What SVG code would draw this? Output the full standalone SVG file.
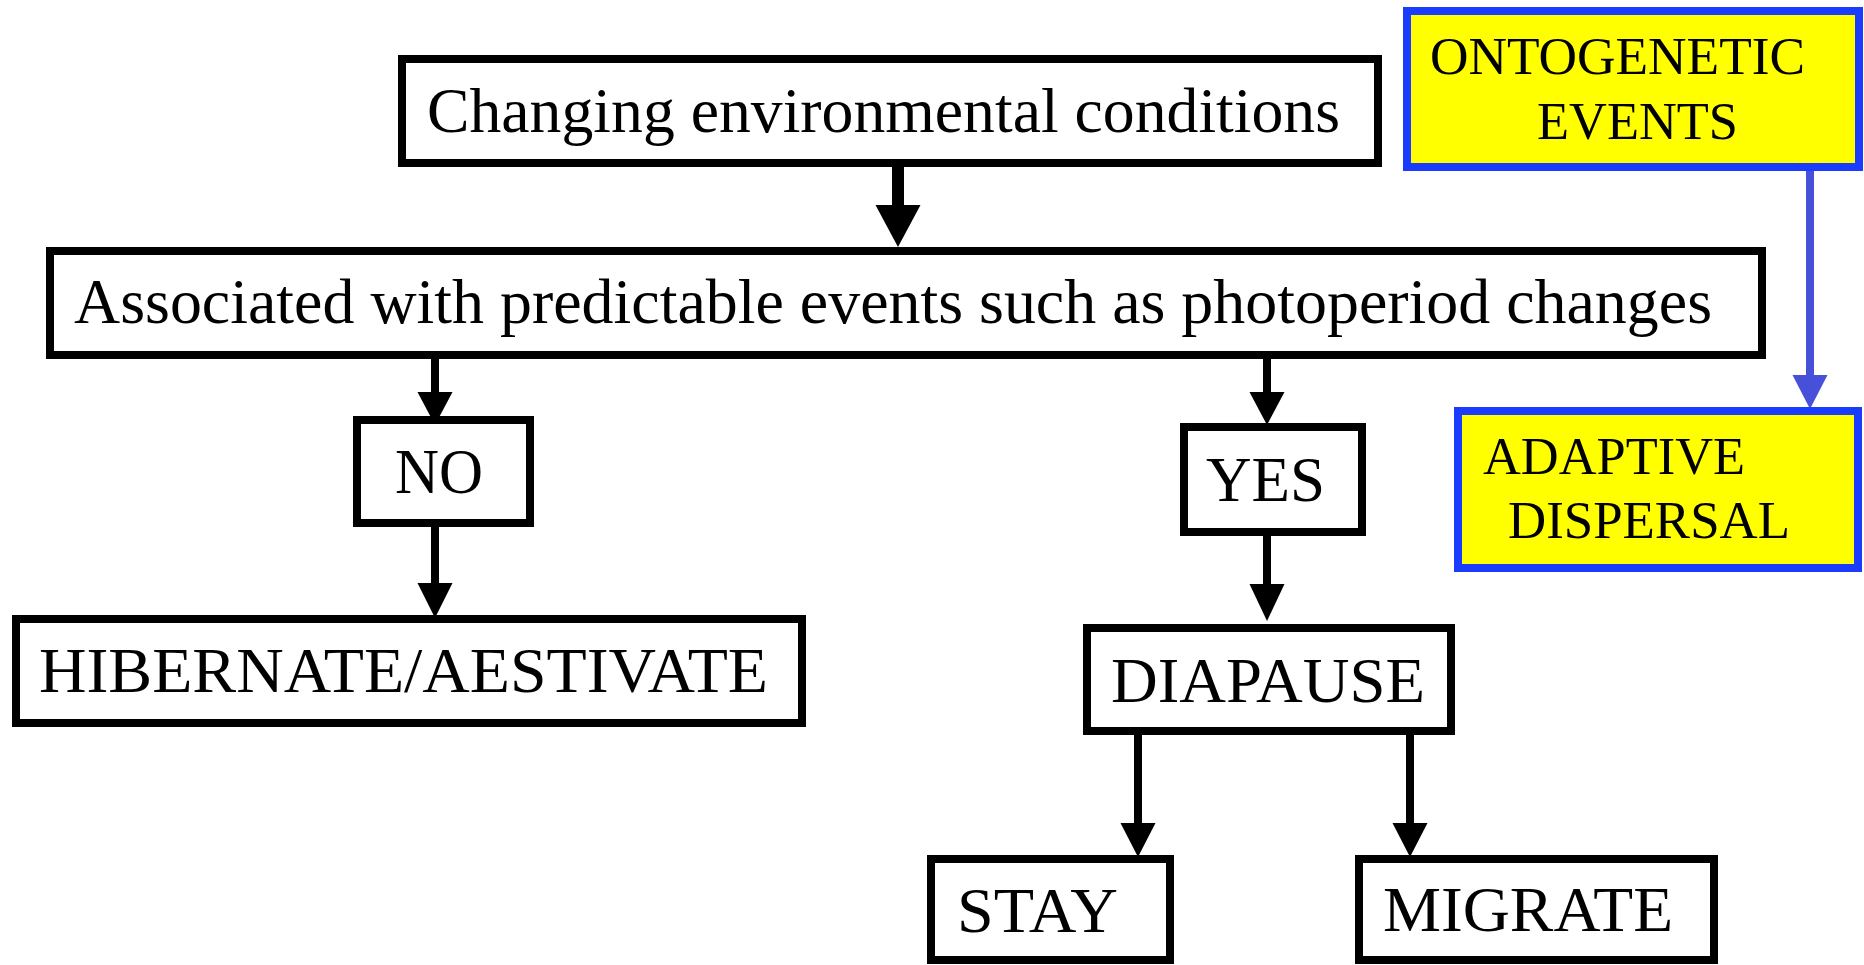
<svg xmlns="http://www.w3.org/2000/svg" width="1864" height="965" viewBox="0 0 1864 965">
<style>
.box{fill:#ffffff;stroke:#000000;stroke-width:8}
.ybox{fill:#ffff00;stroke:#1a3cff;stroke-width:8}
.t{font-family:"Liberation Serif","Times New Roman",serif;font-size:64px;fill:#000000}
.ty{font-family:"Liberation Serif","Times New Roman",serif;font-size:53px;fill:#000000}
.sh{stroke:#000000;stroke-width:8;fill:none}
.hd{fill:#000000}
.bsh{stroke:#4650d8;stroke-width:8;fill:none}
.bhd{fill:#4650d8}
</style>
<rect width="1864" height="965" fill="#ffffff"/>
<g id="connectors">
<line class="sh" x1="898" y1="167" x2="898" y2="207" style="stroke-width:12"/>
<polygon class="hd" points="875.5,205 920.5,205 898,247"/>
<line class="sh" x1="435" y1="359" x2="435" y2="394"/>
<polygon class="hd" points="417.5,392 452.5,392 435,425"/>
<line class="sh" x1="1267" y1="359" x2="1267" y2="394"/>
<polygon class="hd" points="1249.5,392 1284.5,392 1267,425"/>
<line class="sh" x1="435" y1="527" x2="435" y2="585"/>
<polygon class="hd" points="417.5,583 452.5,583 435,618"/>
<line class="sh" x1="1267" y1="536" x2="1267" y2="586"/>
<polygon class="hd" points="1249.5,584 1284.5,584 1267,621"/>
<line class="sh" x1="1138" y1="735" x2="1138" y2="825"/>
<polygon class="hd" points="1120.5,823 1155.5,823 1138,857"/>
<line class="sh" x1="1410" y1="735" x2="1410" y2="825"/>
<polygon class="hd" points="1392.5,823 1427.5,823 1410,857"/>
<line class="bsh" x1="1810" y1="171" x2="1810" y2="377"/>
<polygon class="bhd" points="1792.5,375 1827.5,375 1810,409"/>
</g>
<g id="n-changing">
<rect class="box" x="402" y="59" width="976" height="104"/>
<text class="t" x="427" y="132" textLength="913" lengthAdjust="spacingAndGlyphs">Changing environmental conditions</text>
</g>
<g id="n-associated">
<rect class="box" x="50" y="251" width="1712" height="104"/>
<text class="t" x="74" y="323" textLength="1638" lengthAdjust="spacingAndGlyphs">Associated with predictable events such as photoperiod changes</text>
</g>
<g id="n-no">
<rect class="box" x="357" y="420" width="173" height="103"/>
<text class="t" x="395" y="493" textLength="88" lengthAdjust="spacingAndGlyphs">NO</text>
</g>
<g id="n-hibernate">
<rect class="box" x="16" y="619" width="786" height="104"/>
<text class="t" x="39" y="692" textLength="729" lengthAdjust="spacingAndGlyphs">HIBERNATE/AESTIVATE</text>
</g>
<g id="n-yes">
<rect class="box" x="1184" y="427" width="178" height="105"/>
<text class="t" x="1206" y="501" textLength="119" lengthAdjust="spacingAndGlyphs">YES</text>
</g>
<g id="n-diapause">
<rect class="box" x="1087" y="628" width="364" height="103"/>
<text class="t" x="1111" y="702" textLength="314" lengthAdjust="spacingAndGlyphs">DIAPAUSE</text>
</g>
<g id="n-stay">
<rect class="box" x="931" y="859" width="239" height="101"/>
<text class="t" x="957" y="932" textLength="161" lengthAdjust="spacingAndGlyphs">STAY</text>
</g>
<g id="n-migrate">
<rect class="box" x="1359" y="859" width="355" height="101"/>
<text class="t" x="1383" y="931" textLength="290" lengthAdjust="spacingAndGlyphs">MIGRATE</text>
</g>
<g id="n-ontogenetic">
<rect class="ybox" x="1407" y="11" width="452" height="156"/>
<text class="ty" x="1430" y="74" textLength="375" lengthAdjust="spacingAndGlyphs">ONTOGENETIC</text>
<text class="ty" x="1537" y="139" textLength="201" lengthAdjust="spacingAndGlyphs">EVENTS</text>
</g>
<g id="n-adaptive">
<rect class="ybox" x="1458" y="411" width="400" height="157"/>
<text class="ty" x="1483" y="474" textLength="262" lengthAdjust="spacingAndGlyphs">ADAPTIVE</text>
<text class="ty" x="1508" y="538" textLength="282" lengthAdjust="spacingAndGlyphs">DISPERSAL</text>
</g>
</svg>
